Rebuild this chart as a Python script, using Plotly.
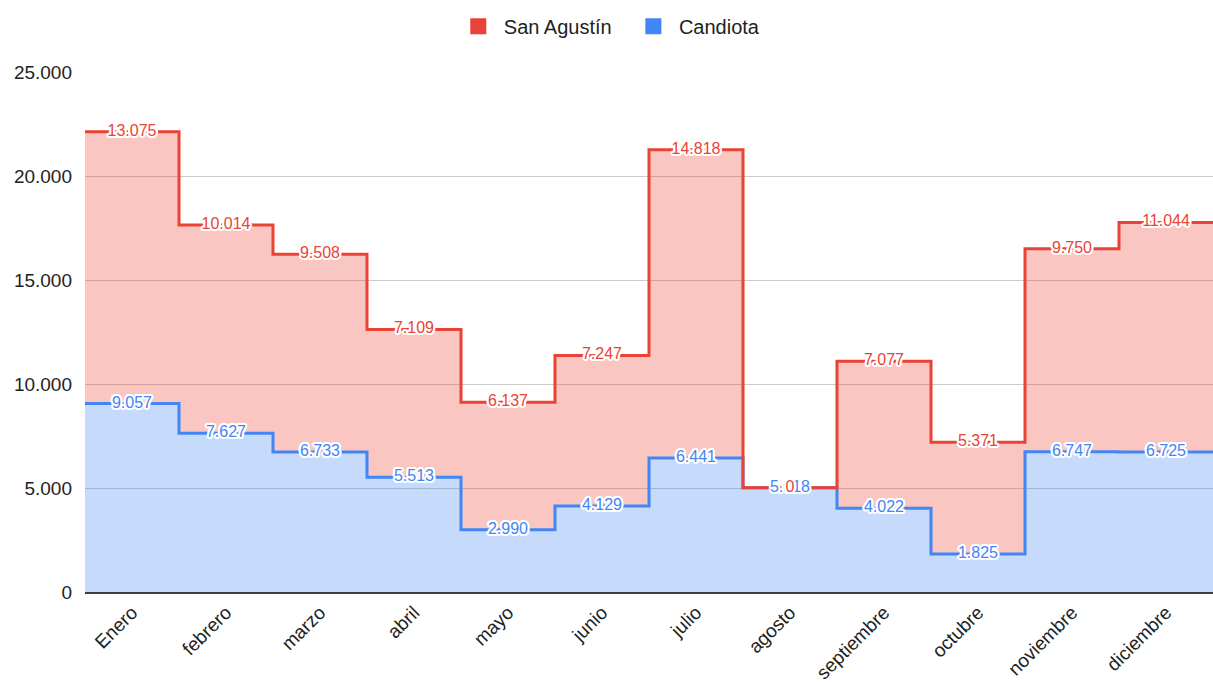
import plotly.graph_objects as go

months = ["Enero", "febrero", "marzo", "abril", "mayo", "junio", "julio",
          "agosto", "septiembre", "octubre", "noviembre", "diciembre"]
candiota = [9057, 7627, 6733, 5513, 2990, 4129, 6441, 5018, 4022, 1825, 6747, 6725]
san_agustin = [13075, 10014, 9508, 7109, 6137, 7247, 14818, 0, 7077, 5371, 9750, 11044]
y_ticks = [0, 5000, 10000, 15000, 20000, 25000]

RED = "#EA4335"
BLUE = "#4285F4"
RED_FILL = "rgba(234,67,53,0.30)"
BLUE_FILL = "rgba(66,133,244,0.30)"
FONT = "Arial, Liberation Sans, sans-serif"
HALO = ", ".join(f"{dx}px {dy}px 0px white"
                 for dx, dy in [(-2, 0), (2, 0), (0, -2), (0, 2), (-1, -1), (1, -1),
                                (-1, 1), (1, 1), (-2, -1), (2, 1), (-2, 1), (2, -1),
                                (-1, -2), (1, -2), (-1, 2), (1, 2)])

n = len(months)
xs = list(range(n + 1))
cand_step = candiota + [candiota[-1]]
san_step = san_agustin + [san_agustin[-1]]
totals = [c + s for c, s in zip(candiota, san_agustin)]
centers = [i + 0.5 for i in range(n)]

def fmt(v):
    return f"{v:,}".replace(",", ".")

fig = go.Figure()
fig.add_trace(go.Scatter(x=xs, y=cand_step, stackgroup="one", line_shape="hv",
                         line=dict(color=BLUE, width=3), fillcolor=BLUE_FILL,
                         mode="lines", showlegend=False, hoverinfo="skip"))
fig.add_trace(go.Scatter(x=xs, y=san_step, stackgroup="one", line_shape="hv",
                         line=dict(color=RED, width=3), fillcolor=RED_FILL,
                         mode="lines", showlegend=False, hoverinfo="skip"))

fig.add_trace(go.Scatter(x=centers, y=candiota, mode="text",
                         text=[fmt(v) for v in candiota],
                         textfont=dict(color=BLUE, size=16, family=FONT, shadow=HALO),
                         showlegend=False, hoverinfo="skip"))
fig.add_trace(go.Scatter(x=centers, y=totals, mode="text",
                         text=[fmt(v) for v in san_agustin],
                         textfont=dict(color=RED, size=16, family=FONT, shadow=HALO),
                         showlegend=False, hoverinfo="skip"))

fig.add_trace(go.Scatter(x=[None], y=[None], mode="markers",
                         name="\u00a0San Agustín\u00a0\u00a0\u00a0",
                         marker=dict(symbol="square", size=20, color=RED)))
fig.add_trace(go.Scatter(x=[None], y=[None], mode="markers", name="\u00a0Candiota",
                         marker=dict(symbol="square", size=20, color=BLUE)))

fig.update_layout(
    width=1213, height=682,
    margin=dict(l=85, r=0, t=72, b=90),
    paper_bgcolor="white", plot_bgcolor="white",
    separators=",.",
    font=dict(family=FONT, size=19, color="#222222"),
    legend=dict(orientation="h", x=0.467, xanchor="center", y=1.088, yanchor="middle",
                traceorder="normal", font=dict(size=20, color="#222222"),
                itemwidth=30),
    xaxis=dict(range=[0, n], tickmode="array", tickvals=centers, ticktext=months,
               tickangle=-45, showgrid=False, zeroline=False, ticks="",
               showline=True, linecolor="#3c4043", linewidth=2,
               tickfont=dict(size=19, color="#222222")),
    yaxis=dict(range=[0, 25000], tickvals=y_ticks, tickformat=",d",
               showgrid=True, gridcolor="#cccccc", gridwidth=1, zeroline=False,
               ticks="", ticklabelstandoff=12,
               tickfont=dict(size=19, color="#222222")),
)

fig.write_html("out.html", config={"displayModeBar": False},
               post_script="document.body.style.margin='0';document.body.style.overflow='hidden';")
